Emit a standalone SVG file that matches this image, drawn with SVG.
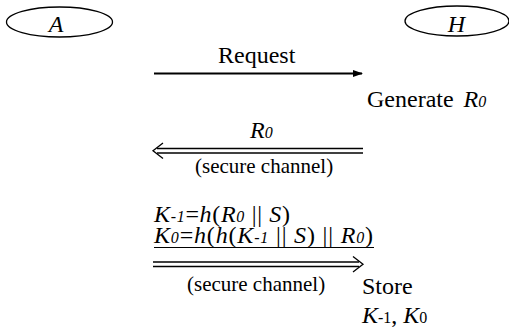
<svg xmlns="http://www.w3.org/2000/svg" width="509" height="336" viewBox="0 0 509 336">
  <style>
    text { font-family: "Times New Roman", serif; fill: #000; }
    .t { font-size: 24px; }
    .sm { font-size: 21px; }
    .i { font-style: italic; }
    .sub { font-size: 16px; }
    .ent { fill: #fff; stroke: #000; stroke-width: 1.3; }
    .thick { stroke: #000; stroke-width: 2; fill: none; }
    .thin { stroke: #000; stroke-width: 1.3; fill: none; }
  </style>
  <defs>
    <marker id="solidHead" markerWidth="10" markerHeight="8" refX="9" refY="4" orient="auto" markerUnits="userSpaceOnUse">
      <path d="M0,0.5 L10,4 L0,7.5 Z" fill="#000"/>
    </marker>
  </defs>

  <!-- participants -->
  <g id="A">
    <ellipse class="ent" cx="59.5" cy="22" rx="53" ry="15"/>
    <text class="t i" x="56" y="31.5" text-anchor="middle">A</text>
  </g>
  <g id="H">
    <ellipse class="ent" cx="457" cy="21" rx="52" ry="15"/>
    <text class="t i" x="456.5" y="31.5" text-anchor="middle">H</text>
  </g>

  <!-- messages -->
  <g id="connectors">
    <!-- request: A to H -->
    <line class="thick" x1="154" y1="73.5" x2="362" y2="73.5" marker-end="url(#solidHead)"/>
    <!-- R0 back to A, double line -->
    <line class="thin" x1="157" y1="148.5" x2="363" y2="148.5"/>
    <line class="thin" x1="157" y1="153" x2="363" y2="153"/>
    <polyline class="thin" points="163,143 153,150.8 163,158.6"/>
    <!-- keys to H, double line -->
    <line class="thin" x1="153" y1="262" x2="359" y2="262"/>
    <line class="thin" x1="153" y1="266.5" x2="359" y2="266.5"/>
    <polyline class="thin" points="353,256.5 363,264.3 353,272"/>
  </g>

  <g id="labels">
    <text class="t" x="218" y="63">Request</text>
    <text class="t" x="367" y="107">Generate <tspan class="i" dx="4">R</tspan><tspan class="i sub">0</tspan></text>
    <text class="t i" x="250" y="138">R<tspan class="sub">0</tspan></text>
    <text class="sm" x="195" y="173">(secure channel)</text>

    <text class="t" x="154" y="222" textLength="136"><tspan class="i">K</tspan><tspan class="i sub">-1</tspan>=<tspan class="i">h</tspan>(<tspan class="i">R</tspan><tspan class="i sub">0</tspan> || <tspan class="i">S</tspan>)</text>
    <text class="t" x="154" y="243" textLength="219"><tspan class="i">K</tspan><tspan class="i sub">0</tspan>=<tspan class="i">h</tspan>(<tspan class="i">h</tspan>(<tspan class="i">K</tspan><tspan class="i sub">-1</tspan> || <tspan class="i">S</tspan>) || <tspan class="i">R</tspan><tspan class="i sub">0</tspan>)</text>
    <line x1="154" y1="247.5" x2="374" y2="247.5" stroke="#000" stroke-width="1.2"/>

    <text class="sm" x="187" y="291">(secure channel)</text>
    <text class="t" x="362" y="294">Store</text>
    <text class="t" x="362" y="323"><tspan class="i">K</tspan><tspan class="sub">-1</tspan>, <tspan class="i">K</tspan><tspan class="sub">0</tspan></text>
  </g>
</svg>
